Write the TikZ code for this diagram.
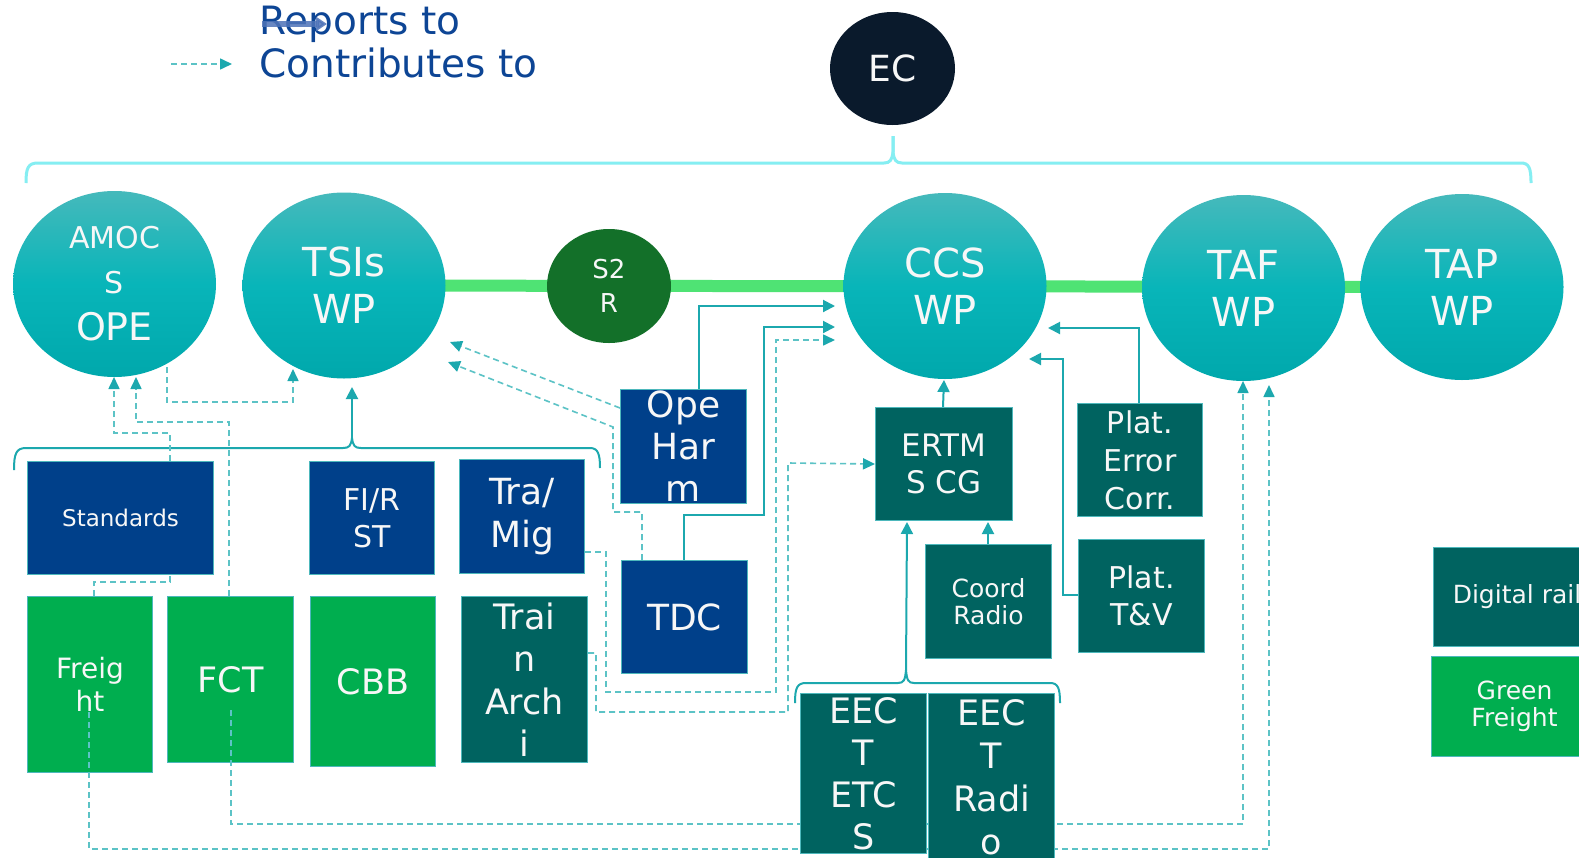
\documentclass[tikz,border=0pt]{standalone}
\usepackage{fontspec}
\setmainfont{DejaVu Sans}
\usetikzlibrary{arrows.meta,shapes.geometric,calc}
\pgfdeclarelayer{bg}
\pgfdeclarelayer{over}
\pgfdeclarelayer{front}
\pgfsetlayers{bg,main,over,front}
\definecolor{ecnavy}{HTML}{0A1A2C}
\definecolor{s2rgreen}{HTML}{137029}
\definecolor{wptop}{HTML}{45B9BB}
\definecolor{wpmid}{HTML}{08B5B9}
\definecolor{wpbot}{HTML}{00A8AC}
\definecolor{boxblue}{HTML}{00408A}
\definecolor{boxteal}{HTML}{006360}
\definecolor{boxgreen}{HTML}{00AE4F}
\definecolor{boxline}{HTML}{4DB8BC}
\definecolor{repcol}{HTML}{1CA8AE}
\definecolor{concol}{HTML}{5CC3C6}
\definecolor{bracecyan}{HTML}{85EEF2}
\definecolor{greenbar}{HTML}{4FE374}
\definecolor{legblue}{HTML}{0D4595}
\definecolor{legarrow}{HTML}{4E73B8}
\definecolor{txtwhite}{HTML}{F7F7F7}
\newcommand\myfs[2]{\fontsize{#1pt}{#2pt}\selectfont}
\begin{document}
\begin{tikzpicture}[x=1pt,y=-1pt,
  wp/.style={ellipse, inner sep=0pt, minimum width=203pt, minimum height=186pt,
    top color=wptop, bottom color=wpbot, middle color=wpmid, text=txtwhite, align=center,
    font=\myfs{40}{47}},
  box/.style={rectangle, draw=boxline, line width=1pt, inner sep=0pt, text=txtwhite,
    align=center, anchor=north west},
  bluebox/.style={box, fill=boxblue},
  tealbox/.style={box, fill=boxteal},
  greenbox/.style={box, fill=boxgreen},
  rep/.style={draw=repcol, line width=2pt, -{Triangle[length=12pt,width=12pt]}},
  repline/.style={draw=repcol, line width=2pt},
  contr/.style={draw=concol, line width=1.6pt, dash pattern=on 6pt off 4pt,
    -{Triangle[length=12pt,width=11pt,color=repcol]}},
  contrline/.style={draw=concol, line width=1.6pt, dash pattern=on 6pt off 4pt},
  bigbrace/.style={draw=bracecyan, line width=3pt},
]
\useasboundingbox (0,0) rectangle (1579,857);
\begin{pgfonlayer}{bg}
\fill[white] (0,0) rectangle (1579,857);
\end{pgfonlayer}

% ---------- legend ----------
\node[anchor=base west, text=legblue, font=\myfs{39}{44}, inner sep=0pt] (reptxt) at (259,34) {Reports to};
\node[anchor=base west, text=legblue, font=\myfs{39}{44}, inner sep=0pt] (contxt) at (259,77) {Contributes to};
\coordinate (legA) at (171,64);
\coordinate (legB) at (232,64);
\draw[contr] (legA) -- (legB);
\coordinate (legR1) at (262,24);
\coordinate (legR2) at (327,24);
\draw[legarrow, opacity=0.85, line width=6pt, -{Triangle[length=11pt,width=14pt]}] (legR1) -- (legR2);

% ---------- EC and big brace ----------
\node[ellipse, fill=ecnavy, minimum width=125pt, minimum height=113pt, inner sep=0pt,
  text=txtwhite, font=\myfs{36}{40}] (ec) at (892.5,68.5) {EC};
\coordinate (ectip) at (893,136);
\draw[bigbrace] (26,183) .. controls (26,168) and (28,163) .. (38,163) -- (884,163)
  .. controls (890,163) and (892,160) .. (893,152) -- (ectip);
\draw[bigbrace] (ectip) -- (893,152) .. controls (894,160) and (896,163) .. (902,163)
  -- (1521,163) .. controls (1529,163) and (1531,168) .. (1531,183);

% ---------- working parties ----------
\node[wp, font=\myfs{30}{45}] (amocs) at (114.5,284) {AMOC\\S\\[2pt]{\myfs{38}{47}OPE}};
\node[wp] (tsis) at (344,285.5) {TSIs\\WP};
\node[ellipse, fill=s2rgreen, minimum width=124pt, minimum height=114pt, inner sep=0pt,
  text=txtwhite, align=center, font=\myfs{26}{34}] (s2r) at (609,286) {S2\\R};
\node[wp] (ccs) at (945,286) {CCS\\WP};
\node[wp] (taf) at (1243.5,288) {TAF\\WP};
\node[wp] (tap) at (1462,287) {TAP\\WP};

% ---------- boxes ----------
\node[bluebox, minimum width=186pt, minimum height=113pt, font=\myfs{23}{28}] (standards) at (27,461) {Standards};
\node[bluebox, minimum width=125pt, minimum height=113pt, font=\myfs{30}{37}] (fir) at (309,461) {FI/R\\ST};
\node[bluebox, minimum width=125pt, minimum height=114pt, font=\myfs{36}{43}] (tramig) at (459,459) {Tra/\\Mig};
\node[bluebox, minimum width=126pt, minimum height=114pt, font=\myfs{36}{42}] (opeharm) at (620,389) {Ope\\Har\\m};
\node[bluebox, minimum width=126pt, minimum height=113pt, font=\myfs{36}{42}] (tdc) at (621,560) {TDC};
\node[greenbox, minimum width=125pt, minimum height=176pt, font=\myfs{28}{33}] (freight) at (27,596) {Freig\\ht};
\node[greenbox, minimum width=126pt, minimum height=166pt, font=\myfs{35}{42}] (fct) at (167,596) {FCT};
\node[greenbox, minimum width=125pt, minimum height=170pt, font=\myfs{35}{42}] (cbb) at (310,596) {CBB};
\node[tealbox, minimum width=126pt, minimum height=166pt, font=\myfs{35}{42.5}] (trainarch) at (461,596) {Trai\\n\\Arch\\i};
\node[tealbox, minimum width=137pt, minimum height=113pt, font=\myfs{31}{37}] (ertms) at (875,407) {ERTM\\S CG};
\node[tealbox, minimum width=125pt, minimum height=113pt, font=\myfs{30}{38}] (platerr) at (1077,403) {Plat.\\Error\\Corr.};
\node[tealbox, minimum width=126pt, minimum height=113pt, font=\myfs{30}{37}] (plattv) at (1078,539) {Plat.\\T\&V};
\node[tealbox, minimum width=126pt, minimum height=114pt, font=\myfs{25}{27}] (coord) at (925,544) {Coord\\Radio};
\node[tealbox, minimum width=167pt, minimum height=99pt, font=\myfs{25}{29}] (digital) at (1433,547) {Digital rail};
\node[greenbox, minimum width=166pt, minimum height=100pt, font=\myfs{25}{27}] (greenfr) at (1431,656) {Green\\Freight};

% ---------- EECT boxes (front) ----------
\begin{pgfonlayer}{front}
\node[tealbox, minimum width=126pt, minimum height=160pt, font=\myfs{35}{42}] (eectetcs) at (800,693) {EEC\\T\\ETC\\S};
\node[tealbox, minimum width=126pt, minimum height=167pt, font=\myfs{35}{43}] (eectradio) at (928,693) {EEC\\T\\Radi\\o};
\end{pgfonlayer}

% ---------- connector end points ----------
\coordinate (tsIn0) at (352,387);
\coordinate (tsIn1) at (293,369);
\coordinate (tsIn2) at (450,342);
\coordinate (tsIn3) at (448,362);
\coordinate (amBot) at (167,367);
\coordinate (amIn1) at (114,377);
\coordinate (amIn2) at (136,377);
\coordinate (ccsA) at (835,306);
\coordinate (ccsB) at (835,327);
\coordinate (ccsC) at (944,380);
\coordinate (ccsD) at (1048,328);
\coordinate (ccsE) at (1029,359);
\coordinate (ccsF) at (835,340);
\coordinate (tdcK) at (764,515);
\coordinate (tvK) at (1063,359);
\coordinate (tafIn1) at (1243,381);
\coordinate (tafIn2) at (1269,385);
\coordinate (lbtip) at (352,438);
\coordinate (eecttip) at (906,670);

\begin{pgfonlayer}{bg}
\draw[draw=greenbar, line width=12pt] (tsis.center) -- (tap.center);
% left brace and TSIs arrow
\draw[repline] (14,470) .. controls (14,454) and (16,448) .. (26,448) -- (343,448)
  .. controls (349,448) and (351,446) .. (lbtip) .. controls (353,446) and (355,448) .. (361,448)
  -- (590,448) .. controls (598,448) and (600,454) .. (600,468);
\draw[rep] (lbtip) -- (tsIn0);
% reports to CCS
\draw[rep] ($(opeharm.north west)+(79,0)$) |- (ccsA);
\draw[rep] ($(tdc.north west)+(63,0)$) |- (tdcK) |- (ccsB);
\draw[rep] ($(ertms.north west)+(68,0)$) -- (ccsC);
\draw[rep] ($(platerr.north west)+(62,0)$) |- (ccsD);
\draw[rep] ($(plattv.north west)+(0,56)$) -| (tvK) -- (ccsE);
\draw[rep] ($(coord.north west)+(63,0)$) -- ($(ertms.south west)+(113,1)$);
% contributes
\draw[contr] (amBot) -- (167,402) -| (tsIn1);
\draw[contr] ($(standards.north west)+(143,0)$) -- (170,433) -| (amIn1);
\draw[contr] ($(fct.north west)+(62,0)$) -- (229,422) -| (amIn2);
\draw[contrline] ($(freight.north west)+(67,0)$) -- (94,582) -| ($(standards.south west)+(143,0)$);
\draw[contr] ($(opeharm.north west)+(0,19)$) -- (tsIn2);
\draw[contr] ($(tdc.north west)+(21,0)$) -- (642,512) -| (613,427) -- (tsIn3);
\draw[contr] ($(tramig.north east)+(0,93)$) -| (606,692) -| (776,340) -- (ccsF);
\draw[contr] ($(trainarch.north east)+(0,57)$) -| (596,712) -| (788,463) -- (ertms.west);
\end{pgfonlayer}

\begin{pgfonlayer}{over}
\draw[contr] ($(fct.north west)+(64,114)$) -- (231,824) -| (tafIn1);
\draw[contr] ($(freight.north west)+(62,116)$) -- (89,849) -| (tafIn2);
\end{pgfonlayer}

% EECT brace and arrow to ERTMS
\begin{pgfonlayer}{front}
\draw[repline] (795,703) .. controls (795,688) and (797,683) .. (806,683) -- (898,683)
  .. controls (904,683) and (905,680) .. (eecttip) .. controls (907,680) and (908,683) .. (914,683)
  -- (1050,683) .. controls (1058,683) and (1060,688) .. (1060,703);
\draw[rep] (eecttip) -- ($(ertms.south west)+(32,1)$);
\end{pgfonlayer}
\end{tikzpicture}
\end{document}
